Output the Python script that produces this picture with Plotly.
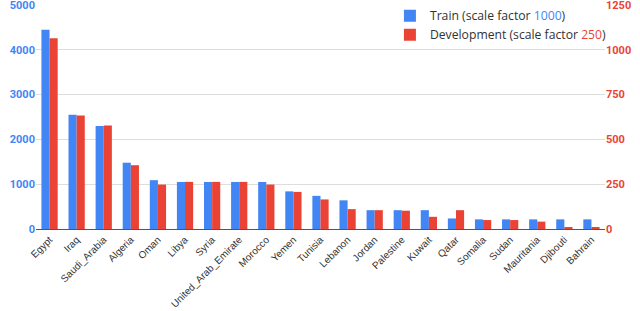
import plotly.graph_objects as go

countries = ["Egypt", "Iraq", "Saudi_Arabia", "Algeria", "Oman", "Libya", "Syria",
             "United_Arab_Emirate", "Morocco", "Yemen", "Tunisia", "Lebanon", "Jordan",
             "Palestine", "Kuwait", "Qatar", "Somalia", "Sudan", "Mauritania",
             "Djibouti", "Bahrain"]
train = [4450, 2550, 2300, 1480, 1090, 1050, 1050, 1050, 1050, 840, 740, 640, 420,
         420, 420, 235, 215, 215, 215, 215, 215]
dev = [1065, 633, 578, 356, 248, 263, 263, 263, 248, 207, 165, 111, 105,
       102, 68, 105, 50, 50, 41, 11, 9]
left_ticks = [0, 1000, 2000, 3000, 4000, 5000]
right_ticks = [0, 250, 500, 750, 1000, 1250]

BLUE = "#4285F4"
RED = "#EA4335"

fig = go.Figure()
fig.add_trace(go.Bar(x=countries, y=train, name="Train (scale factor <span style='color:%s'>1000</span>)" % BLUE,
                     marker=dict(color=BLUE, line=dict(width=0)), offsetgroup="1", yaxis="y"))
fig.add_trace(go.Bar(x=countries, y=dev, name="Development (scale factor <span style='color:%s'>250</span>)" % RED,
                     marker=dict(color=RED, line=dict(width=0)), offsetgroup="2", yaxis="y2"))

fig.update_layout(
    width=640, height=311,
    margin=dict(l=36, r=35, t=5, b=82, autoexpand=False),
    paper_bgcolor="white", plot_bgcolor="white",
    barmode="group", bargap=0.4, bargroupgap=0,
    font=dict(family="Roboto, Arial, sans-serif", size=11, color="#222"),
    showlegend=True,
    legend=dict(x=0.622, y=1.017, xanchor="left", yanchor="top", bgcolor="rgba(0,0,0,0)",
                font=dict(family="Open Sans, sans-serif", size=12.2, color="#333"),
                itemwidth=30, tracegroupgap=0),
    xaxis=dict(tickangle=-45, automargin=False,
               tickfont=dict(family="Arial, Liberation Sans, sans-serif", size=10, color="#333"),
               showgrid=False, showline=True, linecolor="#555", linewidth=1, ticks=""),
    yaxis=dict(range=[0, 5000], tickmode="array", tickvals=left_ticks, ticktext=[str(v) for v in left_ticks],
               showgrid=True, gridcolor="#DDDDDD", zeroline=False, ticklabeloverflow="allow", automargin=False,
               tickfont=dict(family="Roboto, Arial, sans-serif", size=11, color=BLUE, weight="bold"),
               ticks="", showline=False),
    yaxis2=dict(range=[0, 1250], tickmode="array", tickvals=right_ticks, ticktext=[str(v) for v in right_ticks],
                overlaying="y", side="right", showgrid=False, ticklabeloverflow="allow", automargin=False,
                zeroline=False, ticks="",
                tickfont=dict(family="Roboto, Arial, sans-serif", size=11, color=RED, weight="bold")),
)

fig.write_html("out.html", config={"displayModeBar": False},
               post_script="document.body.style.margin='0';document.body.style.overflow='hidden';")
